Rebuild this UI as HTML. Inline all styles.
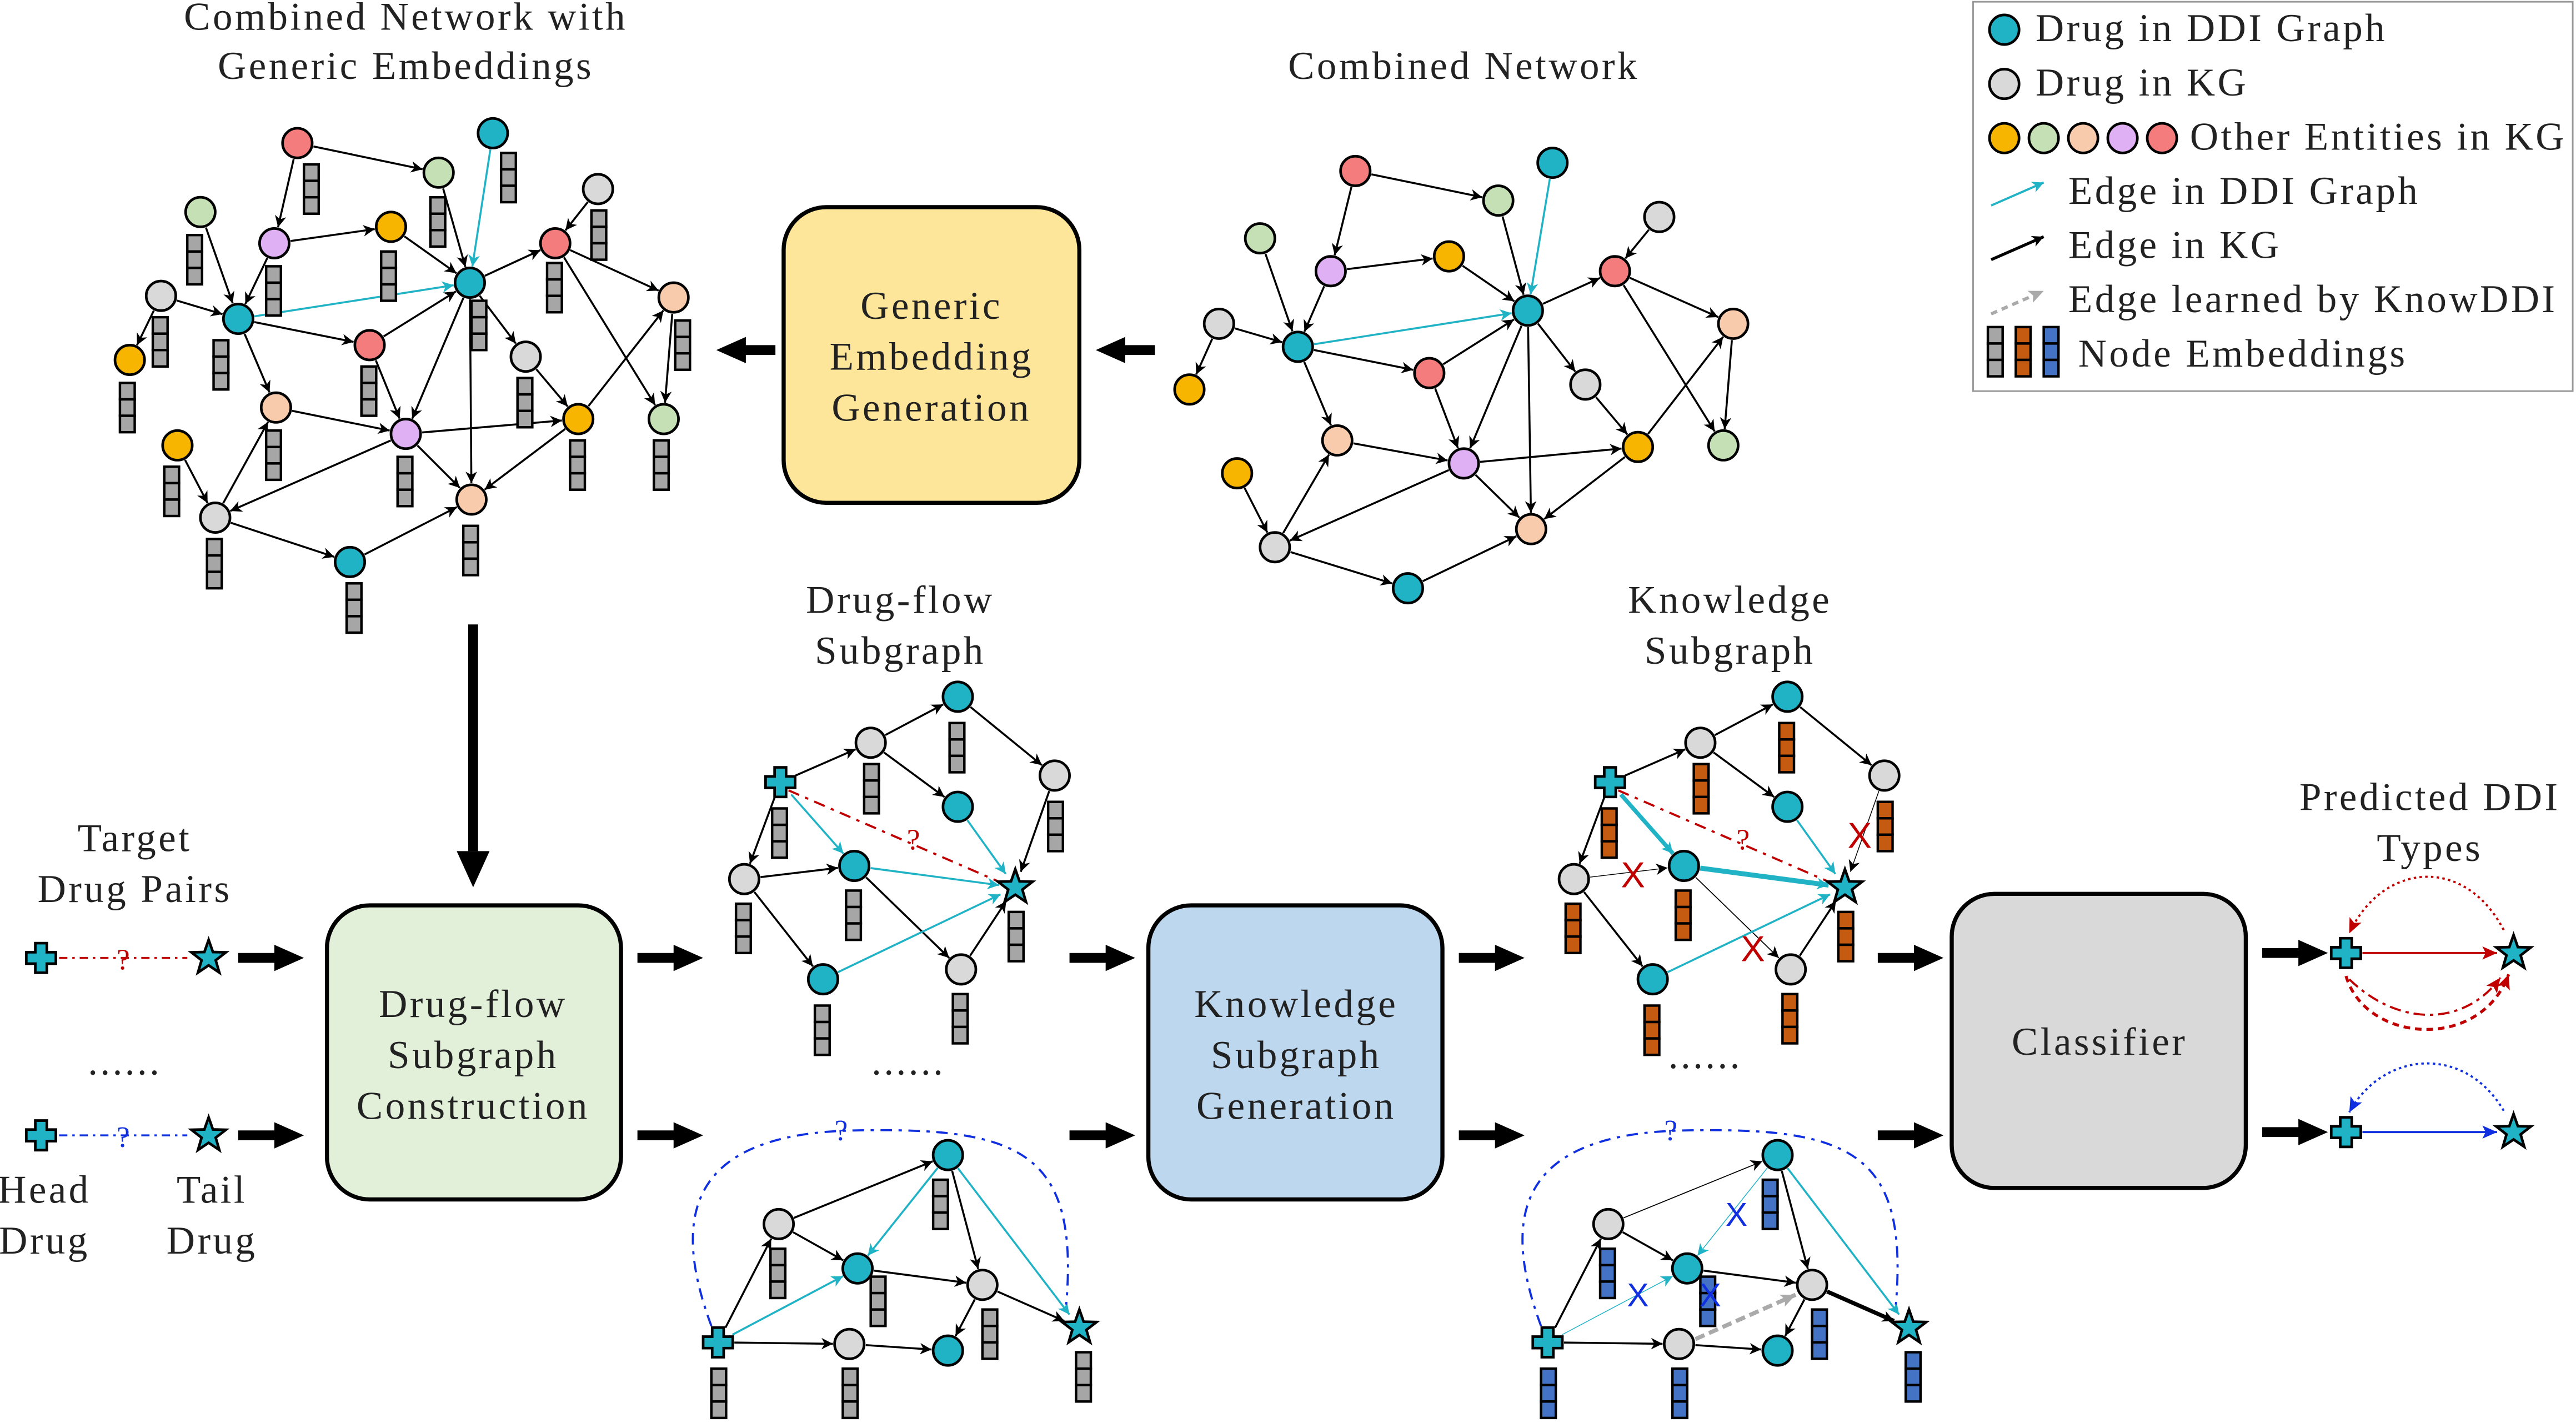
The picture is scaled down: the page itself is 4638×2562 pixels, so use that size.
<!DOCTYPE html>
<html><head><meta charset="utf-8">
<style>
html,body{margin:0;padding:0;background:#fff;}
svg{display:block;}
text{font-family:"Liberation Serif",serif;}
.t{fill:#222;font-size:24px;letter-spacing:1.5px;}
</style></head>
<body>
<svg id="s" xmlns="http://www.w3.org/2000/svg" width="4638" height="2562" viewBox="0 0 1568 866">
<defs>
<marker id="mk" markerWidth="8" markerHeight="8" refX="7" refY="4" orient="auto" markerUnits="userSpaceOnUse"><path d="M0,0.5 L7,4 L0,7.5 L2,4Z" fill="#000"/></marker>
<marker id="mc" markerWidth="8" markerHeight="8" refX="7" refY="4" orient="auto" markerUnits="userSpaceOnUse"><path d="M0,0.5 L7,4 L0,7.5 L2,4Z" fill="#20b2c5"/></marker>
<marker id="mr" markerWidth="10" markerHeight="10" refX="9" refY="5" orient="auto" markerUnits="userSpaceOnUse"><path d="M0,1 L9,5 L0,9 L2,5Z" fill="#c00000"/></marker>
<marker id="mb" markerWidth="10" markerHeight="10" refX="9" refY="5" orient="auto" markerUnits="userSpaceOnUse"><path d="M0,1 L9,5 L0,9 L2,5Z" fill="#1030e0"/></marker>
<marker id="mg" markerWidth="10" markerHeight="10" refX="9" refY="5" orient="auto" markerUnits="userSpaceOnUse"><path d="M0,1 L9,5 L0,9 L2,5Z" fill="#aaa"/></marker>
<marker id="big" markerWidth="20" markerHeight="20" refX="2" refY="10" orient="auto" markerUnits="userSpaceOnUse"><path d="M0,2 L18,10 L0,18Z" fill="#000"/></marker>
</defs>
<g id="edges"></g>
<g id="nodes"></g>

<rect x="477" y="126" width="180" height="180" rx="26" fill="#fde59a" stroke="#000" stroke-width="2.5"/>
<text class="t" x="567" y="194" text-anchor="middle">Generic</text>
<text class="t" x="567" y="225" text-anchor="middle">Embedding</text>
<text class="t" x="567" y="256" text-anchor="middle">Generation</text>

<rect x="199" y="551" width="179" height="179" rx="26" fill="#e2efd9" stroke="#000" stroke-width="2.5"/>
<text class="t" x="288" y="619" text-anchor="middle">Drug-flow</text>
<text class="t" x="288" y="650" text-anchor="middle">Subgraph</text>
<text class="t" x="288" y="681" text-anchor="middle">Construction</text>

<rect x="699" y="551" width="179" height="179" rx="26" fill="#bdd7ee" stroke="#000" stroke-width="2.5"/>
<text class="t" x="789" y="619" text-anchor="middle">Knowledge</text>
<text class="t" x="789" y="650" text-anchor="middle">Subgraph</text>
<text class="t" x="789" y="681" text-anchor="middle">Generation</text>

<rect x="1188" y="544" width="179" height="179" rx="26" fill="#d9d9d9" stroke="#000" stroke-width="2.5"/>
<text class="t" x="1278" y="642" text-anchor="middle">Classifier</text>

<text class="t" x="247" y="18" text-anchor="middle">Combined Network with</text>
<text class="t" x="247" y="48" text-anchor="middle">Generic Embeddings</text>
<text class="t" x="891" y="48" text-anchor="middle">Combined Network</text>
<text class="t" x="548" y="373" text-anchor="middle">Drug-flow</text>
<text class="t" x="548" y="404" text-anchor="middle">Subgraph</text>
<text class="t" x="1053" y="373" text-anchor="middle">Knowledge</text>
<text class="t" x="1053" y="404" text-anchor="middle">Subgraph</text>
<text class="t" x="82" y="518" text-anchor="middle">Target</text>
<text class="t" x="82" y="549" text-anchor="middle">Drug Pairs</text>
<text class="t" x="1479" y="493" text-anchor="middle">Predicted DDI</text>
<text class="t" x="1479" y="524" text-anchor="middle">Types</text>
<text class="t" x="27" y="732" text-anchor="middle">Head</text>
<text class="t" x="27" y="763" text-anchor="middle">Drug</text>
<text class="t" x="129" y="732" text-anchor="middle">Tail</text>
<text class="t" x="129" y="763" text-anchor="middle">Drug</text>
<text class="t" x="76" y="654" text-anchor="middle">......</text>
<text class="t" x="553" y="654" text-anchor="middle">......</text>
<text class="t" x="1038" y="650" text-anchor="middle">......</text>

<rect x="1201" y="1" width="365" height="237" fill="#fff" stroke="#999" stroke-width="1"/>
<g id="legend"></g>
<text class="t" x="1239" y="25">Drug in DDI Graph</text>
<text class="t" x="1239" y="58">Drug in KG</text>
<text class="t" x="1333" y="91">Other Entities in KG</text>
<text class="t" x="1259" y="124">Edge in DDI Graph</text>
<text class="t" x="1259" y="157">Edge in KG</text>
<text class="t" x="1259" y="190">Edge learned by KnowDDI</text>
<text class="t" x="1265" y="223">Node Embeddings</text>
</svg>
<script>
const NS="http://www.w3.org/2000/svg";
const E=document.getElementById('edges'),N=document.getElementById('nodes'),L=document.getElementById('legend');
const C={T:'#20b2c5',G:'#d9d9d9',Y:'#f7b500',Gr:'#c5e0b4',P:'#f8cbad',Pu:'#e0b0f5',R:'#f47c7c'};
function el(p,tag,a){const e=document.createElementNS(NS,tag);for(const k in a)e.setAttribute(k,a[k]);p.appendChild(e);return e;}
function txt(p,x,y,s,col,sz,fam){const t=el(p,'text',{x:x,y:y,'text-anchor':'middle',style:`fill:${col};font-size:${sz}px;`+(fam?`font-family:${fam};`:'')});t.textContent=s;}
function node(p,x,y,c,r){el(p,'circle',{cx:x,cy:y,r:r||9,fill:C[c]||c,stroke:'#000','stroke-width':1.6});}
function emb(p,x,y,fill){for(let i=0;i<3;i++)el(p,'rect',{x:x,y:y+i*10,width:9,height:10,fill:fill,stroke:'#000','stroke-width':1.5});}
function plus(p,x,y){const a=3.5,b=9;el(p,'polygon',{points:`${x-a},${y-b} ${x+a},${y-b} ${x+a},${y-a} ${x+b},${y-a} ${x+b},${y+a} ${x+a},${y+a} ${x+a},${y+b} ${x-a},${y+b} ${x-a},${y+a} ${x-b},${y+a} ${x-b},${y-a} ${x-a},${y-a}`,fill:C.T,stroke:'#000','stroke-width':1.6});}
function star(p,x,y){let pts=[];for(let i=0;i<10;i++){const r=i%2?4.5:11,a=-Math.PI/2+i*Math.PI/5;pts.push((x+r*Math.cos(a)).toFixed(1)+','+(y+r*Math.sin(a)).toFixed(1));}el(p,'polygon',{points:pts.join(' '),fill:C.T,stroke:'#000','stroke-width':1.6});}
function edge(x1,y1,x2,y2,col,w,mk,dash,par){const dx=x2-x1,dy=y2-y1,d=Math.hypot(dx,dy),s=10;const a={x1:x1+dx/d*s,y1:y1+dy/d*s,x2:x2-dx/d*s,y2:y2-dy/d*s,stroke:col||'#000','stroke-width':w||1.2};if(mk!==null)a['marker-end']='url(#'+(mk||'mk')+')';if(dash)a['stroke-dasharray']=dash;el(par||E,'line',a);}
const R=[[825,104,'R'],[912,122,'Gr'],[945,99,'T'],[1010,132,'G'],[767,145,'Gr'],[810,165,'Pu'],[882,156,'Y'],[930,189,'T'],[983,165,'R'],[742,197,'G'],[790,211,'T'],[870,227,'R'],[965,234,'G'],[1055,197,'P'],[724,237,'Y'],[814,268,'P'],[891,282,'Pu'],[997,272,'Y'],[1049,271,'Gr'],[753,288,'Y'],[932,322,'P'],[776,333,'G'],[857,358,'T']];
const Lf=[[181,87],[267,105],[300,81],[364,115],[122,129],[167,148],[238,138],[286,172],[338,148],[98,180],[145,194],[225,210],[320,217],[410,181],[79,219],[168,248],[247,264],[352,255],[404,255],[108,271],[287,304],[131,315],[213,342]];
const ED=[[0,1],[2,7,1],[1,7],[3,8],[5,6],[4,10],[0,5],[5,10],[10,7,1],[9,10],[9,14],[10,11],[11,7],[7,8],[7,12],[8,13],[13,18],[8,18],[10,15],[15,16],[16,17],[7,16],[7,20],[16,20],[11,16],[17,13],[12,17],[19,21],[16,21],[22,20],[21,22],[17,20],[6,7],[21,15]];
function graph(P){for(const e of ED){const a=P[e[0]],b=P[e[1]];if(e[2])edge(a[0],a[1],b[0],b[1],'#20b2c5',1.2,'mc');else edge(a[0],a[1],b[0],b[1]);}P.forEach((p,i)=>node(N,p[0],p[1],R[i][2]));}
graph(R);graph(Lf);
const EM=[[185,100],[262,120],[305,93],[360,128],[114,143],[162,162],[232,153],[287,183],[333,160],[93,193],[130,207],[220,223],[315,230],[411,195],[73,233],[162,262],[242,278],[347,268],[398,268],[100,284],[282,320],[126,328],[211,355]];
EM.forEach(p=>emb(N,p[0],p[1],'#a6a6a6'));
function sgTop(ox,fill,know){
 const n={h:[475,476],a:[530,452],b:[583,424],c:[642,472],d:[583,491],e:[520,527],f:[453,535],t:[618,540],g:[585,590],i:[501,596]};
 for(const k in n)n[k]=[n[k][0]+ox,n[k][1]];
 const bl=(a,b,c,w,m)=>edge(n[a][0],n[a][1],n[b][0],n[b][1],c,w,m);
 bl('h','a');bl('a','b');bl('b','c');bl('c','t','#000',know?0.5:1.2);bl('a','d');bl('h','f');
 bl('h','e','#20b2c5',know?2.5:1.2,'mc');bl('d','t','#20b2c5',1.2,'mc');bl('e','t','#20b2c5',know?3:1.2,'mc');
 bl('e','g','#000',know?0.6:1.2);bl('f','e','#000',know?0.5:1.2);bl('f','i');bl('i','t','#20b2c5',1.2,'mc');bl('g','t');
 el(E,'line',{x1:n.h[0]+5,y1:n.h[1]+5,x2:n.t[0]-9,y2:n.t[1]-3,stroke:'#c00000','stroke-width':1.3,'stroke-dasharray':'7,4,2,4'});
 txt(N,ox+556,517,'?','#c00000',18);
 ['a','b','c','d','e','f','g','i'].forEach(k=>node(N,n[k][0],n[k][1],['b','d','e','i'].includes(k)?'T':'G'));
 plus(N,n.h[0],n.h[1]);star(N,n.t[0],n.t[1]);
 [[470,492],[526,465],[578,440],[638,488],[515,542],[448,550],[614,555],[580,605],[496,612]].forEach(p=>emb(N,p[0]+ox,p[1],fill));
 if(know){[[994,540],[1067,585],[1132,516]].forEach(p=>txt(N,p[0],p[1],'X','#c00000',22,'Liberation Sans'));}
}
sgTop(0,'#a6a6a6',false);sgTop(505,'#c55a11',true);
function sgBot(ox,fill,know){
 const n={h:[437,817],a:[474,745],b:[577,703],c:[522,772],d:[598,782],t:[657,808],e:[517,818],f:[577,822]};
 for(const k in n)n[k]=[n[k][0]+ox,n[k][1]];
 const bl=(a,b,c,w,m)=>edge(n[a][0],n[a][1],n[b][0],n[b][1],c,w,m);
 bl('h','a');bl('h','c','#20b2c5',know?0.5:1.2,'mc');bl('h','e');bl('a','b','#000',know?0.6:1.2);bl('b','c','#20b2c5',know?0.5:1.2,'mc');bl('b','t','#20b2c5',1.2,'mc');
 bl('b','d');bl('c','d');bl('e','f');bl('d','f');bl('d','t','#000',know?2.5:1.2);bl('a','c','#000',1.2);
 if(know){el(E,'line',{x1:n.e[0]+10,y1:n.e[1]-3,x2:n.d[0]-10,y2:n.d[1]+6,stroke:'#aaa','stroke-width':2.5,'stroke-dasharray':'6,3','marker-end':'url(#mg)'});}
 el(E,'path',{d:`M${n.h[0]-4},${n.h[1]-10} C${n.h[0]-30},${n.h[1]-80} ${n.h[0]-15},690 ${ox+520},688 C${ox+620},686 ${n.t[0]},700 ${n.t[0]-8},${n.t[1]-14}`,fill:'none',stroke:'#1030e0','stroke-width':1.3,'stroke-dasharray':'7,4,2,4'});
 txt(N,ox+512,694,'?','#1030e0',18);
 ['a','b','c','d','e','f'].forEach(k=>node(N,n[k][0],n[k][1],['b','c','f'].includes(k)?'T':'G'));
 plus(N,n.h[0],n.h[1]);star(N,n.t[0],n.t[1]);
 [[433,833],[469,760],[568,718],[530,777],[598,797],[655,823],[513,833]].forEach(p=>emb(N,p[0]+ox,p[1],fill));
 if(know){[[1057,746],[997,795],[1041,795]].forEach(p=>txt(N,p[0],p[1],'X','#1030e0',20,'Liberation Sans'));}
}
sgBot(0,'#a6a6a6',false);sgBot(505,'#4472c4',true);
plus(N,25,583);star(N,127,583);plus(N,25,691);star(N,127,691);
el(E,'line',{x1:36,y1:583,x2:114,y2:583,stroke:'#c00000','stroke-width':1.2,'stroke-dasharray':'5,3,1.5,3'});
el(E,'line',{x1:36,y1:691,x2:114,y2:691,stroke:'#1030e0','stroke-width':1.2,'stroke-dasharray':'5,3,1.5,3'});
txt(N,75,590,'?','#c00000',18);txt(N,75,698,'?','#1030e0',18);
plus(N,1428,580);star(N,1530,580);plus(N,1428,689);star(N,1530,689);
edge(1428,580,1530,580,'#c00000',1.3,'mr');edge(1428,689,1530,689,'#1030e0',1.3,'mb');
el(E,'path',{d:'M1524,566 C1500,520 1450,525 1430,568',fill:'none',stroke:'#c00000','stroke-width':1.3,'stroke-dasharray':'1.5,2','marker-end':'url(#mr)'});
el(E,'path',{d:'M1428,594 C1440,635 1510,640 1527,593',fill:'none',stroke:'#c00000','stroke-width':1.8,'stroke-dasharray':'4,3','marker-end':'url(#mr)'});
el(E,'path',{d:'M1430,596 C1460,625 1500,625 1522,595',fill:'none',stroke:'#c00000','stroke-width':1.3,'stroke-dasharray':'7,3,2,3','marker-end':'url(#mr)'});
el(E,'path',{d:'M1524,676 C1500,635 1450,640 1430,677',fill:'none',stroke:'#1030e0','stroke-width':1.3,'stroke-dasharray':'1.5,2','marker-end':'url(#mb)'});
function big(x1,y1,x2,y2,w){el(E,'line',{x1:x1,y1:y1,x2:x2,y2:y2,stroke:'#000','stroke-width':w||7,'marker-end':'url(#big)'});}
function ba(x,y,dir,len){len=len||36;if(dir>0)big(x,y,x+len-16,y,6);else big(x,y,x-len+16,y,6);}
ba(703,213,-1);ba(472,213,-1);
el(E,'line',{x1:288,y1:380,x2:288,y2:518,stroke:'#000','stroke-width':6});
el(E,'polygon',{points:'278,518 298,518 288,540',fill:'#000'});
[[145,583],[145,691],[388,583],[388,691],[651,583],[651,691],[888,583],[888,691],[1143,583],[1143,691],[1377,580],[1377,689]].forEach(p=>ba(p[0],p[1],1,40));
node(L,1220,18,'T');node(L,1220,51,'G');
['Y','Gr','P','Pu','R'].forEach((c,i)=>node(L,1220+i*24,84,c));
el(L,'line',{x1:1212,y1:125,x2:1244,y2:111,stroke:'#20b2c5','stroke-width':1.3,'marker-end':'url(#mc)'});
el(L,'line',{x1:1212,y1:158,x2:1244,y2:144,stroke:'#000','stroke-width':1.8,'marker-end':'url(#mk)'});
el(L,'line',{x1:1212,y1:191,x2:1244,y2:177,stroke:'#aaa','stroke-width':2,'stroke-dasharray':'4,3','marker-end':'url(#mg)'});
emb(L,1210,199,'#a6a6a6');emb(L,1227,199,'#c55a11');emb(L,1244,199,'#4472c4');
</script>
</body></html>
